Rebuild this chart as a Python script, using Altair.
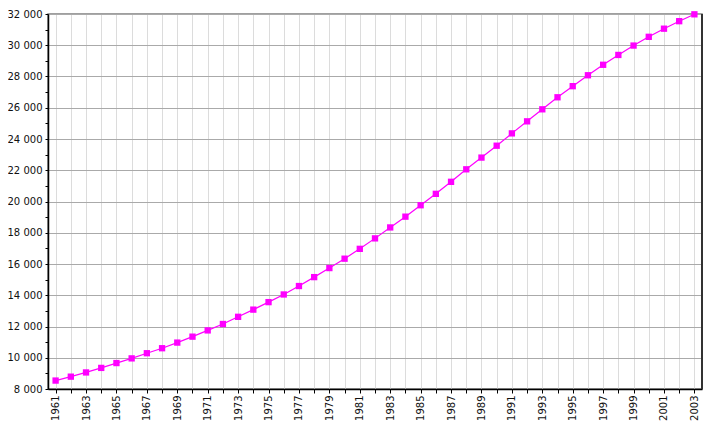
import altair as alt
import pandas as pd

years = list(range(1961, 2004))
population = [8540, 8790, 9060, 9350, 9660, 9960, 10290, 10610, 10970, 11350,
              11750, 12160, 12620, 13080, 13560, 14050, 14590, 15160, 15740, 16340,
              16970, 17640, 18340, 19030, 19760, 20490, 21260, 22060, 22810, 23570,
              24360, 25130, 25900, 26670, 27380, 28080, 28750, 29380, 29980, 30540,
              31060, 31540, 31980]
y_ticks = list(range(8000, 32001, 1000))

df = pd.DataFrame({"year": years, "pop": population})

FONT = "DejaVu Sans"
W, H = 654, 375

x_enc = alt.X("year:Q",
              scale=alt.Scale(domain=[1960.5, 2003.5], nice=False, zero=False),
              axis=alt.Axis(values=years, labelAngle=-90, labelOverlap=False,
                            labelExpr="datum.value % 2 == 1 ? '' + datum.value : ''",
                            title=None, grid=True, gridColor="#dcdcdc", gridWidth=1,
                            domainColor="#000000", domainWidth=1.5,
                            tickColor="#000000", tickSize=4, labelPadding=2,
                            labelFont=FONT, labelFontSize=10, labelColor="#111111"))

y_enc = alt.Y("pop:Q",
              scale=alt.Scale(domain=[8000, 32000], nice=False, zero=False),
              axis=alt.Axis(values=y_ticks, labelOverlap=False,
                            labelExpr="datum.value % 2000 == 0 ? replace(format(datum.value, ','), ',', ' ') : ''",
                            title=None, grid=True, gridColor="#aaaaaa", gridWidth=1,
                            gridOpacity={"condition": {"test": "datum.value % 2000 == 0", "value": 1}, "value": 0},
                            domainColor="#000000", domainWidth=1.5,
                            tickColor="#000000", tickSize=3, labelPadding=3,
                            labelFont=FONT, labelFontSize=10, labelColor="#111111"))

line = alt.Chart(df).mark_line(color="#ff00ff", strokeWidth=1.2).encode(x=x_enc, y=y_enc)
pts = alt.Chart(df).mark_point(shape="square", filled=True, color="#ff00ff",
                               size=40, opacity=1).encode(x=x_enc, y=y_enc)

right_border = alt.Chart(df).mark_rule(color="#333333", strokeWidth=1.5).encode(
    x=alt.value(W), y=alt.value(0), y2=alt.value(H))

chart = alt.layer(line, pts, right_border).properties(
    width=W, height=H,
    autosize="none",
    padding={"left": 40, "top": 6, "right": 15, "bottom": 35},
).configure_view(stroke="#808080", strokeWidth=1.5)

chart.save("out.html", embed_options={"renderer": "svg", "actions": False})
